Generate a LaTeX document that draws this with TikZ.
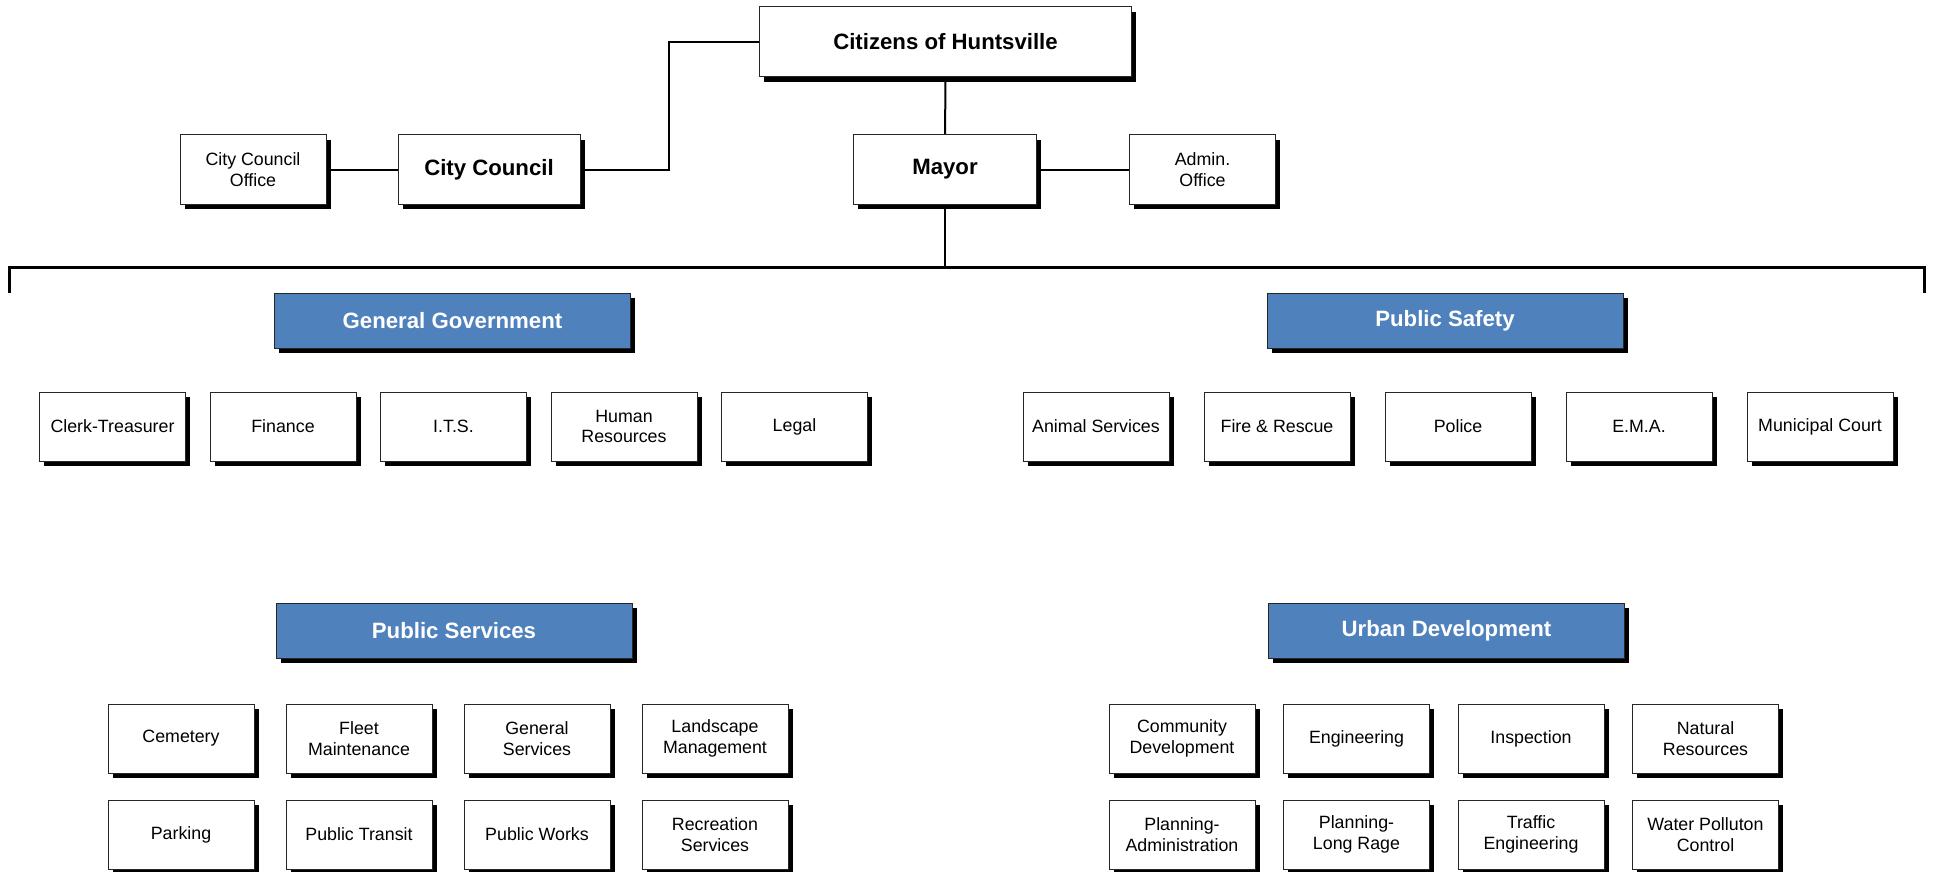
\documentclass[tikz,border=0pt]{standalone}
\usepackage{fontspec}
\setmainfont{Liberation Sans}
\usetikzlibrary{positioning,shadows,backgrounds}
\definecolor{deptblue}{HTML}{4F81BD}

\begin{document}
\begin{tikzpicture}[x=0.5pt,y=-0.5pt,on grid,
    box/.style={draw=black!85,fill=white,line width=0.5pt,inner sep=0pt,align=center,
      drop shadow={shadow xshift=2.3pt,shadow yshift=-2.3pt,fill=black,opacity=1}},
    unit/.style={box,minimum width=73pt,minimum height=34.5pt,
      font=\fontsize{8.9pt}{10.3pt}\selectfont},
    head/.style={box,minimum height=35pt,font=\fontsize{11.1pt}{13pt}\selectfont\bfseries},
    dept/.style={box,fill=deptblue,text=white,minimum width=178pt,minimum height=27.5pt,
      font=\fontsize{11.1pt}{13pt}\selectfont\bfseries},
    link/.style={line width=1pt},
    bus/.style={line width=1.5pt,line join=miter}]
    \useasboundingbox (0,0) rectangle (1937,872);

    % top of the chart
    \node[head,minimum width=186pt]           (cit)      at (945.5,42)  {Citizens of Huntsville};
    \node[head,minimum width=91.5pt,minimum height=34.5pt] (mayor) at (945,169.5) {Mayor};
    \node[unit]                               (admin)    at (1202.5,169.5) {Admin.\\Office};
    \node[head,minimum width=91pt,minimum height=34.5pt] (council) at (489,169.5) {City Council};
    \node[unit]                               (ccoffice) at (253,169.5) {City Council\\Office};

    \coordinate (busL)  at (9,267);
    \coordinate (busR)  at (1924,267);
    \coordinate (busLe) at (9,293);
    \coordinate (busRe) at (1924,293);
    \coordinate (busM)  at (945,267);

    % departments
    \node[dept] (gengov)  at (452.5,320.5)  {General Government};
    \node[dept] (pubsafe) at (1445,320.5)   {Public Safety};
    \node[dept] (pubserv) at (454,630.5)    {Public Services};
    \node[dept] (urbdev)  at (1446.5,630.5) {Urban Development};

    % general government
    \begin{scope}[node distance=85.25pt]
    \node[unit] (clerk)   at (112.5,426.5)   {Clerk-Treasurer};
    \node[unit] (finance) [right=of clerk]   {Finance};
    \node[unit] (its)     [right=of finance] {I.T.S.};
    \node[unit] (hr)      [right=of its]     {Human\\Resources};
    \node[unit] (legal)   [right=of hr]      {Legal};
    \end{scope}

    % public safety
    \begin{scope}[node distance=90.5pt]
    \node[unit] (animal) at (1096,426.5)    {Animal Services};
    \node[unit] (fire)   [right=of animal]  {Fire \& Rescue};
    \node[unit] (police) [right=of fire]    {Police};
    \node[unit] (ema)    [right=of police]  {E.M.A.};
    \node[unit] (court)  [right=of ema]     {Municipal Court};
    \end{scope}

    % public services
    \begin{scope}[node distance=89pt]
    \node[unit] (cemetery)   at (181,738.5)       {Cemetery};
    \node[unit] (fleet)      [right=of cemetery]  {Fleet\\Maintenance};
    \node[unit] (gensvc)     [right=of fleet]     {General\\Services};
    \node[unit] (landscape)  [right=of gensvc]    {Landscape\\Management};
    \node[unit] (parking)    [below=48pt of cemetery] {Parking};
    \node[unit] (transit)    [right=of parking]   {Public Transit};
    \node[unit] (works)      [right=of transit]   {Public Works};
    \node[unit] (recreation) [right=of works]     {Recreation\\Services};
    \end{scope}

    % urban development
    \begin{scope}[node distance=87.25pt]
    \node[unit] (community)   at (1182,738.5)         {Community\\Development};
    \node[unit] (engineering) [right=of community]    {Engineering};
    \node[unit] (inspection)  [right=of engineering]  {Inspection};
    \node[unit] (natural)     [right=of inspection]   {Natural\\Resources};
    \node[unit] (planadm)     [below=48pt of community] {Planning-\\Administration};
    \node[unit] (planlong)    [right=of planadm]      {Planning-\\Long Rage};
    \node[unit] (traffic)     [right=of planlong]     {Traffic\\Engineering};
    \node[unit] (water)       [right=of traffic]      {Water Polluton\\Control};
    \end{scope}

    \begin{scope}[on background layer]
    \draw[link] (ccoffice) -- (council);
    \draw[link] (council.east) -- ++(88,0) |- (cit.west);
    \draw[link] (cit) -- (mayor);
    \draw[link] (mayor) -- (admin);
    \draw[link] (mayor) -- (busM);
    \draw[bus]  (busLe) -- (busL) -- (busR) -- (busRe);
    \end{scope}
\end{tikzpicture}
\end{document}
